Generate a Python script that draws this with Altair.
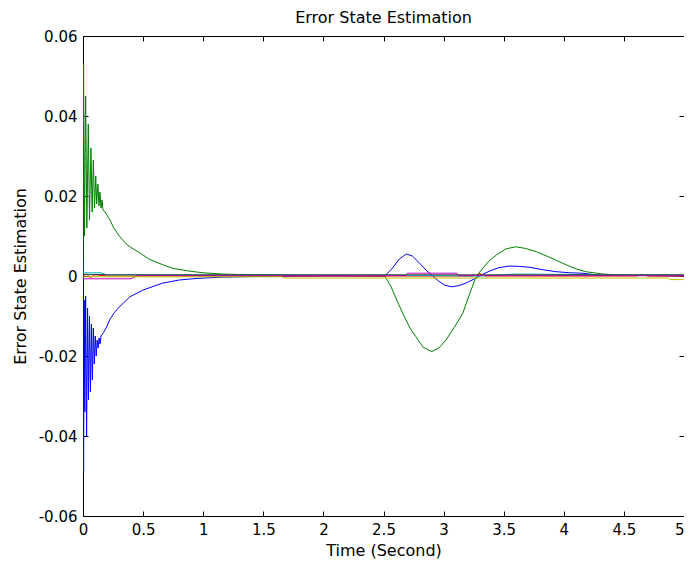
import altair as alt
import pandas as pd

# ---- data ----
series_names = ["s1", "s2", "s3", "s4", "s5", "s6", "s7"]
series_colors = ["#0000FF", "#008000", "#FF0000", "#00BFBF", "#BF00BF", "#BFBF00", "#404040"]

t_blue = [0, 0.005, 0.010, 0.015, 0.022, 0.030, 0.038, 0.046, 0.054, 0.062, 0.070, 0.078,
          0.086, 0.094, 0.102, 0.110, 0.118, 0.126, 0.134, 0.142, 0.15, 0.17, 0.2, 0.224,
          0.26, 0.3, 0.39, 0.5, 0.66, 0.8, 0.95, 1.15, 1.5, 2.0, 2.51,
          2.57, 2.63, 2.69, 2.74, 2.80, 2.86, 2.91, 2.96, 3.01, 3.07, 3.13, 3.2, 3.30,
          3.38, 3.46, 3.55, 3.63, 3.71, 3.82, 3.93, 4.05, 4.15, 4.3, 5.0]
v_blue = [0.004, -0.049, -0.006, -0.034, -0.005, -0.040, -0.008, -0.031, -0.010, -0.029, -0.012, -0.026,
          -0.013, -0.022, -0.015, -0.020, -0.016, -0.018, -0.0155, -0.017, -0.015, -0.0142, -0.0125, -0.0108,
          -0.0092, -0.0078, -0.0052, -0.0035, -0.0018, -0.001, -0.0006, -0.0003, -0.0001, 0.0, 0.0,
          0.0018, 0.0042, 0.0055, 0.005, 0.0032, 0.0013, 0.0, -0.0013, -0.0023, -0.0027, -0.0024, -0.0016, 0.0,
          0.0012, 0.0021, 0.0025, 0.0024, 0.0022, 0.0016, 0.0011, 0.0008, 0.0007, 0.0002, 0.0]

t_green = [0, 0.005, 0.012, 0.022, 0.032, 0.044, 0.054, 0.066, 0.076, 0.086, 0.096, 0.106,
           0.114, 0.124, 0.133, 0.141, 0.150, 0.158, 0.166, 0.18, 0.2, 0.224, 0.26, 0.307,
           0.36, 0.42, 0.473, 0.55, 0.664, 0.75, 0.889, 1.0, 1.16, 1.4, 1.8, 2.2, 2.51,
           2.56, 2.61, 2.66, 2.72, 2.77, 2.83, 2.90, 2.96, 3.02, 3.09, 3.16, 3.21, 3.26,
           3.30, 3.37, 3.44, 3.52, 3.60, 3.68, 3.77, 3.88, 3.99, 4.09, 4.18, 4.32, 4.5, 5.0]
v_green = [0.0, 0.053, 0.010, 0.045, 0.012, 0.038, 0.014, 0.032, 0.016, 0.029, 0.017, 0.025,
           0.018, 0.023, 0.0175, 0.021, 0.017, 0.019, 0.0165, 0.0162, 0.0152, 0.014, 0.0118, 0.0098,
           0.0080, 0.0067, 0.0058, 0.0042, 0.0028, 0.0019, 0.0012, 0.0008, 0.0005, 0.0003, 0.0002, 0.0001, 0.0,
           -0.0025, -0.006, -0.0093, -0.013, -0.0152, -0.0178, -0.0189, -0.0180, -0.016, -0.0128, -0.0093, -0.005, -0.001,
           0.001, 0.0035, 0.0053, 0.0068, 0.0073, 0.0069, 0.0061, 0.0047, 0.0032, 0.0019, 0.0011, 0.0005, 0.0002, 0.0]

t_red = [0, 0.03, 0.06, 0.1, 0.2, 3.25, 3.30, 3.35, 4.6, 4.65, 4.7, 5.0]
v_red = [0.0, 0.0005, -0.0004, 0.0003, 0.0, 0.0, 0.0006, 0.0, 0.0, 0.0004, 0.0, 0.0]

t_cyan = [0, 0.15, 0.2, 2.5, 3.3, 3.6, 4.5, 5.0]
v_cyan = [0.0008, 0.0008, 0.0003, 0.0002, 0.0, 0.0005, 0.0003, 0.0003]

t_mag = [0, 0.4, 0.45, 2.69, 2.70, 3.11, 3.12, 5.0]
v_mag = [-0.0007, -0.0007, 0.0001, 0.0001, 0.0007, 0.0007, 0.0001, 0.0001]

t_yel = [0, 1.66, 1.67, 4.87, 4.88, 5.0]
v_yel = [-0.0002, -0.0002, -0.0005, -0.0005, -0.0009, -0.0009]

t_gray = [0, 0.15, 0.2, 1.0, 5.0]
v_gray = [0.0004, 0.0004, 0.0003, 0.0003, 0.0003]

x_ticks = [0, 0.5, 1, 1.5, 2, 2.5, 3, 3.5, 4, 4.5, 5]
y_ticks = [-0.06, -0.04, -0.02, 0, 0.02, 0.04, 0.06]

# ---- table ----
rows = []
for name, ts, vs in zip(series_names,
                        [t_blue, t_green, t_red, t_cyan, t_mag, t_yel, t_gray],
                        [v_blue, v_green, v_red, v_cyan, v_mag, v_yel, v_gray]):
    for i, (t, v) in enumerate(zip(ts, vs)):
        rows.append({"s": name, "t": t, "v": v, "i": i})
df = pd.DataFrame(rows)

FONT = "DejaVu Sans"
xscale = alt.Scale(domain=[0, 5], nice=False, zero=False)
yscale = alt.Scale(domain=[-0.06, 0.06], nice=False, zero=False)

base = alt.Chart(df)

lines = base.mark_line(strokeWidth=1, clip=True).encode(
    x=alt.X("t:Q", scale=xscale,
            axis=alt.Axis(values=x_ticks, format="~g", tickSize=0, domain=False, grid=False,
                          labelAlign={"condition": {"test": "datum.value >= 5", "value": "right"},
                                      "value": "center"},
                          labelFlush=False, labelPadding=6, labelFontSize=15, labelFont=FONT,
                          labelColor="black", title="Time (Second)", titleFontSize=16,
                          titleFont=FONT, titleFontWeight="normal", titleColor="black",
                          titlePadding=5)),
    y=alt.Y("v:Q", scale=yscale,
            axis=alt.Axis(values=y_ticks, tickSize=0, domain=False, grid=False,
                          labelExpr="datum.value == 0 ? '0' : (datum.value < 0 ? '-' : '') + format(abs(datum.value), '.2f')",
                          labelFlush=False, labelPadding=6, labelFontSize=15, labelFont=FONT,
                          labelColor="black", title="Error State Estimation", titleFontSize=16,
                          titleFont=FONT, titleFontWeight="normal", titleColor="black",
                          titlePadding=10)),
    color=alt.Color("s:N", scale=alt.Scale(domain=series_names, range=series_colors), legend=None),
    order="i:Q",
)

tick_ax = dict(tickSize=5, offset=-5, domain=False, labels=False, grid=False, title=None,
               tickColor="black", tickWidth=1)

ticks_a = base.mark_line(opacity=0).encode(
    x=alt.X("t:Q", scale=xscale, axis=alt.Axis(values=x_ticks, orient="bottom", **tick_ax)),
    y=alt.Y("v:Q", scale=yscale, axis=alt.Axis(values=y_ticks, orient="left", **tick_ax)),
    detail="s:N",
)
ticks_b = base.mark_line(opacity=0).encode(
    x=alt.X("t:Q", scale=xscale, axis=alt.Axis(values=x_ticks, orient="top", **tick_ax)),
    y=alt.Y("v:Q", scale=yscale, axis=alt.Axis(values=y_ticks, orient="right", **tick_ax)),
    detail="s:N",
)

chart = alt.layer(lines, ticks_a, ticks_b).resolve_axis(
    x="independent", y="independent"
).properties(
    width=601, height=480,
    title=alt.TitleParams("Error State Estimation", fontSize=16, font=FONT,
                          fontWeight="normal", color="black", offset=3),
    autosize=alt.AutoSizeParams(type="none"),
    padding={"left": 75, "top": 28, "right": 0, "bottom": 43},
).configure_view(stroke="black", strokeWidth=1)

chart.save("out.html", embed_options={"renderer": "svg", "actions": False})
